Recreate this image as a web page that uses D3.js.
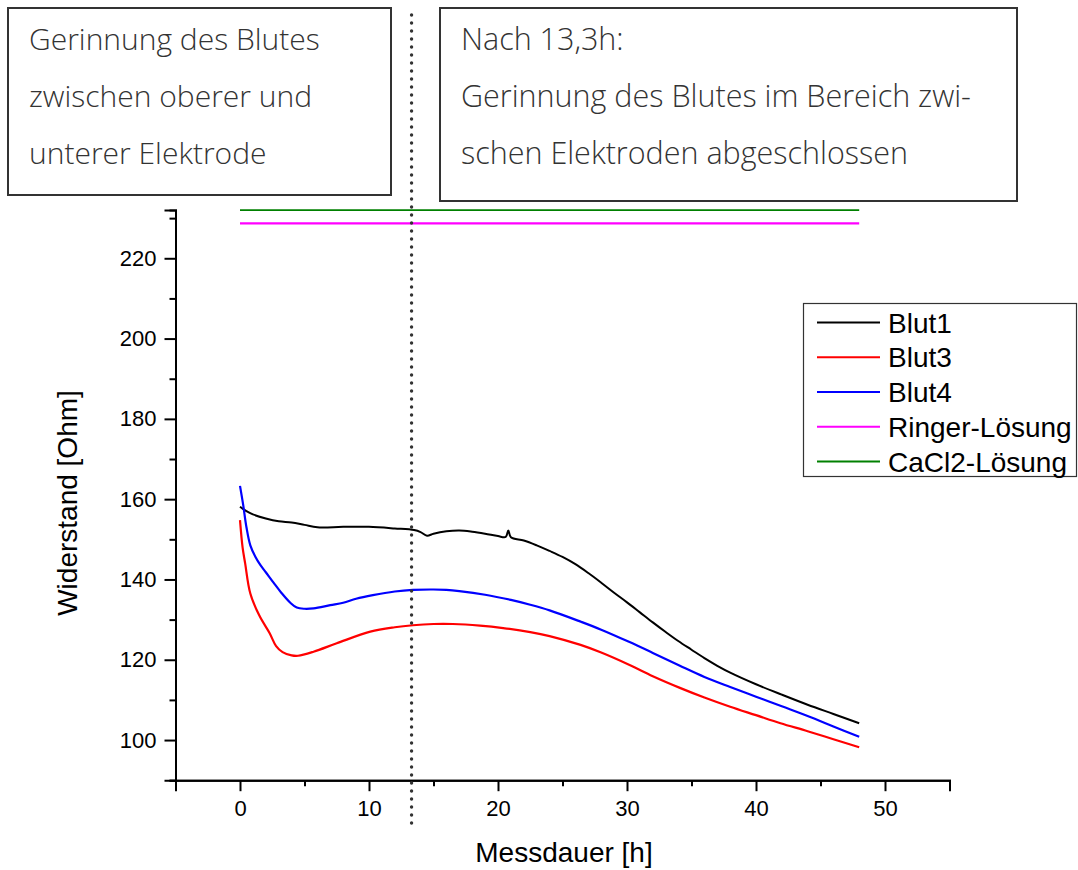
<!DOCTYPE html>
<html>
<head>
<meta charset="utf-8">
<script src="https://cdn.jsdelivr.net/npm/d3@7"></script>
<style>
  html, body { margin: 0; padding: 0; background: #fff; }
  svg { display: block; }
  .note { font-family: "Open Sans", "Noto Sans", sans-serif; font-weight: 300; fill: #333; }
  .lab { font-family: "Liberation Sans", Arial, sans-serif; fill: #000; }
</style>
</head>
<body>
<svg id="chart" width="1078" height="870"></svg>
<script>
// Widerstand der Blutproben über die Messdauer
const blut1T = [0, 0.5, 1, 2, 3, 4, 5, 6, 8, 10, 12, 13.5, 14, 14.5, 15, 16, 17, 18, 19, 20, 20.6, 20.8, 21, 22, 23, 24, 25, 26, 27, 28, 29, 30, 31, 32, 33, 34, 35, 36, 37, 38, 40, 42, 44, 46, 48];
const blut1V = [158.1, 157.0, 156.2, 155.2, 154.5, 154.2, 153.6, 153.0, 153.1, 153.1, 152.7, 152.3, 151.8, 150.9, 151.4, 152.0, 152.2, 151.9, 151.4, 150.8, 150.6, 152.2, 150.5, 149.7, 148.5, 147.1, 145.6, 143.8, 141.6, 139.2, 136.7, 134.3, 131.8, 129.3, 126.9, 124.6, 122.5, 120.4, 118.5, 116.8, 113.9, 111.3, 108.8, 106.5, 104.2];

const blut3T = [0, 0.2, 0.4, 0.8, 1.5, 2.3, 2.8, 3.3, 4, 4.5, 5.7, 7.5, 10.1, 12, 13.4, 15, 16.5, 18.6, 20.4, 22.5, 24, 26.4, 28, 30.2, 32, 34.1, 36, 38, 40, 41.9, 44, 46, 48];
const blut3V = [154.8, 148.0, 144.0, 136.5, 131.0, 126.6, 123.4, 121.9, 121.1, 121.0, 122.0, 124.1, 127.0, 128.1, 128.6, 128.9, 128.9, 128.5, 127.9, 126.9, 125.9, 123.7, 121.8, 118.7, 115.9, 113.0, 110.6, 108.3, 106.2, 104.2, 102.2, 100.2, 98.2];

const blut4T = [0, 0.25, 0.5, 0.8, 1.2, 1.6, 2, 2.6, 3.2, 3.9, 4.4, 5, 5.7, 7, 8, 9, 10.3, 12, 13.4, 15, 16, 17, 19, 21, 22.5, 24, 26.4, 28, 30.2, 32, 34.1, 36, 38, 40, 42, 44, 46, 48];
const blut4V = [163.3, 158.5, 153.0, 148.5, 145.6, 143.5, 141.8, 139.2, 136.7, 134.2, 133.0, 132.7, 132.8, 133.6, 134.2, 135.2, 136.1, 137.0, 137.4, 137.5, 137.4, 137.1, 136.2, 134.9, 133.7, 132.3, 129.5, 127.5, 124.4, 121.7, 118.5, 115.7, 113.2, 110.8, 108.4, 106.0, 103.4, 100.8];

const refT = [0, 48];
const ringerV = [228.7, 228.7];
const cacl2V = [232.0, 232.0];

const seriesNames = ["Blut1", "Blut3", "Blut4", "Ringer-Lösung", "CaCl2-Lösung"];
const seriesColors = ["#000000", "#ff0000", "#0000ff", "#ff00ff", "#008000"];

const xMajorTicks = [0, 10, 20, 30, 40, 50];
const xMinorTicks = [-5, 5, 15, 25, 35, 45, 55];
const yMajorTicks = [100, 120, 140, 160, 180, 200, 220];
const yMinorTicks = [90, 110, 130, 150, 170, 190, 210, 230];

const clotTime = 13.3;
const noteLeft = ["Gerinnung des Blutes", "zwischen oberer und", "unterer Elektrode"];
const noteRight = ["Nach 13,3h:", "Gerinnung des Blutes im Bereich zwi-", "schen Elektroden abgeschlossen"];

const xTitle = "Messdauer [h]";
const yTitle = "Widerstand [Ohm]";

// ---------------------------------------------------------------
const svg = d3.select("#chart");
const x = d3.scaleLinear().domain([-5, 55]).range([175.5, 949.5]);
const y = d3.scaleLinear().domain([90, 232]).range([780.2, 210.1]);

const x0 = x.range()[0], y0 = y.range()[0];

// Axes
const xAxisMajor = d3.axisBottom(x).tickValues(xMajorTicks).tickSize(11).tickPadding(9).tickFormat(d3.format("d"));
const xAxisMinor = d3.axisBottom(x).tickValues(xMinorTicks).tickSize(6).tickFormat("");
const yAxisMajor = d3.axisLeft(y).tickValues(yMajorTicks).tickSize(11).tickPadding(8).tickFormat(d3.format("d"));
const yAxisMinor = d3.axisLeft(y).tickValues(yMinorTicks).tickSize(6).tickFormat("");

function styleAxis(g) {
  g.selectAll(".domain").attr("stroke", "#000").attr("stroke-width", 2);
  g.selectAll(".tick line").attr("stroke", "#000").attr("stroke-width", 2);
  g.selectAll(".tick text").attr("font-family", "'Liberation Sans', Arial, sans-serif")
    .attr("font-size", 22).attr("fill", "#000");
}

svg.append("g").attr("transform", `translate(0,${y0})`).call(xAxisMinor).call(styleAxis);
svg.append("g").attr("transform", `translate(0,${y0})`).call(xAxisMajor).call(styleAxis);
svg.append("g").attr("transform", `translate(${x0},0)`).call(yAxisMinor).call(styleAxis);
svg.append("g").attr("transform", `translate(${x0},0)`).call(yAxisMajor).call(styleAxis);

// Axis titles
svg.append("text").attr("class", "lab")
  .attr("x", 564).attr("y", 862)
  .attr("text-anchor", "middle").attr("font-size", 28).text(xTitle);
svg.append("text").attr("class", "lab")
  .attr("transform", `translate(77,503) rotate(-90)`)
  .attr("text-anchor", "middle").attr("font-size", 28).text(yTitle);

// Data lines
const line = d3.line().x(d => x(d[0])).y(d => y(d[1])).curve(d3.curveCatmullRom.alpha(0.5));
const series = [
  { t: blut1T, v: blut1V, w: 2 },
  { t: blut3T, v: blut3V, w: 2.2 },
  { t: blut4T, v: blut4V, w: 2.2 },
  { t: refT, v: ringerV, w: 2.2 },
  { t: refT, v: cacl2V, w: 1.6 }
];
series.forEach((s, i) => {
  svg.append("path")
    .datum(s.t.map((t, k) => [t, s.v[k]]))
    .attr("fill", "none")
    .attr("stroke", seriesColors[i])
    .attr("stroke-width", s.w)
    .attr("stroke-linejoin", "round")
    .attr("d", line);
});

// Clotting marker
svg.append("line")
  .attr("x1", x(clotTime)).attr("x2", x(clotTime))
  .attr("y1", 15).attr("y2", 826)
  .attr("stroke", "#333").attr("stroke-width", 3.4)
  .attr("stroke-linecap", "round").attr("stroke-dasharray", "0 8");

// Legend
const lg = svg.append("g");
lg.append("rect").attr("x", 803.5).attr("y", 303.5).attr("width", 273).attr("height", 173)
  .attr("fill", "#fff").attr("stroke", "#333").attr("stroke-width", 1.2);
const legendY = d3.scalePoint().domain(seriesNames).range([322.5, 461.5]);
seriesNames.forEach((name, i) => {
  const cy = legendY(name);
  lg.append("line").attr("x1", 817).attr("x2", 880).attr("y1", cy).attr("y2", cy)
    .attr("stroke", seriesColors[i]).attr("stroke-width", 2);
  lg.append("text").attr("class", "lab").attr("x", 888).attr("y", cy + 10)
    .attr("font-size", 28).text(name);
});

// Annotation boxes
function noteBox(x1, y1, x2, y2, tx, lines, size) {
  const g = svg.append("g");
  g.append("rect").attr("x", x1).attr("y", y1).attr("width", x2 - x1).attr("height", y2 - y1)
    .attr("fill", "#fff").attr("stroke", "#333").attr("stroke-width", 2);
  lines.forEach((t, i) => {
    g.append("text").attr("class", "note").attr("x", tx).attr("y", 50 + i * 57)
      .attr("font-size", size).text(t);
  });
}
noteBox(8, 8, 391, 195, 29, noteLeft, 30);
noteBox(440, 8, 1017, 201, 461, noteRight, 30.5);
</script>
</body>
</html>
